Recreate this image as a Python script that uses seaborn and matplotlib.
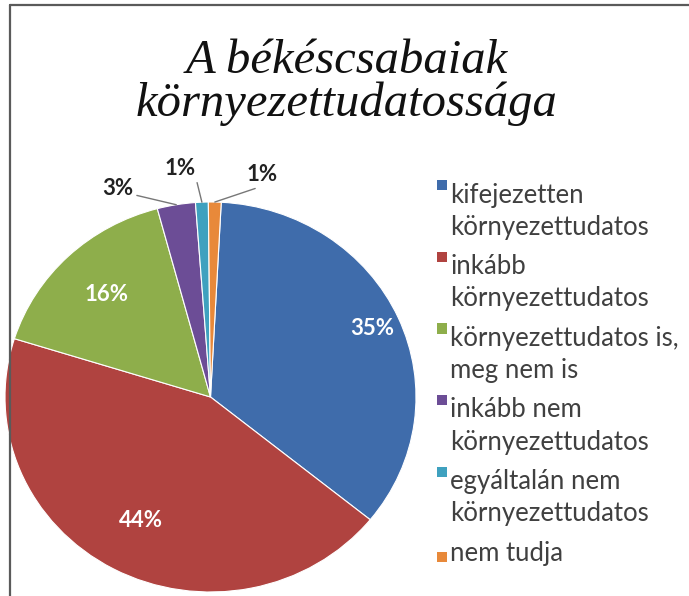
import numpy as np
import matplotlib
matplotlib.use("Agg")
import matplotlib.pyplot as plt
import seaborn as sns
from matplotlib.patches import Rectangle
from matplotlib.legend_handler import HandlerBase
from matplotlib.font_manager import FontProperties

# ---- data ----
categories = [
    "kifejezetten\nkörnyezettudatos",
    "inkább\nkörnyezettudatos",
    "környezettudatos is,\nmeg nem is",
    "inkább nem\nkörnyezettudatos",
    "egyáltalán nem\nkörnyezettudatos",
    "nem tudja",
]
values = [35, 44, 16, 3, 1, 1]
pct_labels = ["35%", "44%", "16%", "3%", "1%", "1%"]
title_lines = ["A békéscsabaiak", "környezettudatossága"]

colors = ["#3F6CAB", "#B04340", "#8EAE4B", "#6C4D96", "#3FA1BF", "#E8893A"]

sns.set_theme(style="white")
palette = sns.color_palette(colors)

W, H = 689, 596
DPI = 100
fig = plt.figure(figsize=(W / DPI, H / DPI), dpi=DPI)
fig.patch.set_facecolor("white")

# frame lines (top & left)
fig.add_artist(plt.Line2D([10 / W, 1], [1 - 5 / H, 1 - 5 / H], color="#5a5a5a", lw=1.6,
                          transform=fig.transFigure))
fig.add_artist(plt.Line2D([10 / W, 10 / W], [0, 1 - 5 / H], color="#5a5a5a", lw=1.6,
                          transform=fig.transFigure))

# title
fig.text(347 / W, 1 - 61 / H, title_lines[0], ha="center", va="center",
         fontsize=35, family="Liberation Serif", style="italic", color="#111111")
fig.text(347 / W, 1 - 104 / H, title_lines[1], ha="center", va="center",
         fontsize=35, family="Liberation Serif", style="italic", color="#111111")

# pie axes
left, right, top, bottom = 5, 416, 202, 592
ax = fig.add_axes([left / W, 1 - bottom / H, (right - left) / W, (bottom - top) / H])
wedges, _ = ax.pie(values, colors=palette, startangle=87, counterclock=False,
                   radius=1.0, wedgeprops=dict(linewidth=0.8, edgecolor="white"))
ax.set_aspect("auto")
ax.set_xlim(-1, 1)
ax.set_ylim(-1, 1)
ax.axis("off")

# inside labels
inside_dist = {0: 0.86, 1: 0.72, 2: 0.73}
for i, r in inside_dist.items():
    w = wedges[i]
    ang = np.deg2rad((w.theta1 + w.theta2) / 2)
    ax.text(r * np.cos(ang), r * np.sin(ang), pct_labels[i], ha="center", va="center",
            color="white", fontsize=16, fontweight="bold", family="Lato")

# outside labels with leader lines
outside_pos = {3: (-0.45, 1.07), 4: (-0.15, 1.17), 5: (0.25, 1.14)}
for i, (tx, ty) in outside_pos.items():
    w = wedges[i]
    ang = np.deg2rad((w.theta1 + w.theta2) / 2)
    ex, ey = np.cos(ang), np.sin(ang)
    ax.annotate(pct_labels[i], xy=(ex, ey), xytext=(tx, ty), ha="center", va="center",
                fontsize=16, fontweight="bold", family="Lato", color="#222222",
                annotation_clip=False,
                arrowprops=dict(arrowstyle="-", color="#777777", lw=1.0,
                                shrinkA=0, shrinkB=0, relpos=(1.0, 0.2)))

# legend metrics
LFS = 18.5
LINESTEP_PX = 32.0
prop = FontProperties(family="Lato", size=LFS)
renderer = fig.canvas.get_renderer()
_, lp_h, lp_d = renderer.get_text_width_height_descent("lp", prop, ismath=False)
# empirical correction so that the rendered line step is ~32 px
linespacing = (LINESTEP_PX / (lp_h - lp_d)) * (32.0 / 37.5)
fs_px = LFS * DPI / 72
labelspacing = (39.3 - lp_h) / fs_px
step_pt = LINESTEP_PX * 72 / DPI


class TopSquare(HandlerBase):
    def __init__(self, shift, size, **kw):
        super().__init__(**kw)
        self.shift = shift
        self.size = size

    def create_artists(self, legend, orig_handle, xdescent, ydescent, width, height,
                       fontsize, trans):
        s = self.size
        r = Rectangle((width - s - xdescent, -ydescent + self.shift), s, s,
                      facecolor=orig_handle.get_facecolor(), edgecolor="none",
                      transform=trans)
        return [r]


SQ = 7.3
handler_multi = TopSquare(shift=step_pt - 0.8, size=SQ)
handler_single = TopSquare(shift=-0.8, size=SQ)
hmap = {w: (handler_multi if "\n" in lab else handler_single) for w, lab in zip(wedges, categories)}

leg = fig.legend(wedges, categories, loc="upper left",
                 bbox_to_anchor=(414 / W, 1 - 162 / H), frameon=False,
                 prop=prop, labelcolor="#404040",
                 handlelength=0.5, handletextpad=0.12, labelspacing=labelspacing,
                 borderpad=0.3, handler_map=hmap)
for t in leg.get_texts():
    t.set_linespacing(linespacing)

fig.savefig("out.png", dpi=DPI)
